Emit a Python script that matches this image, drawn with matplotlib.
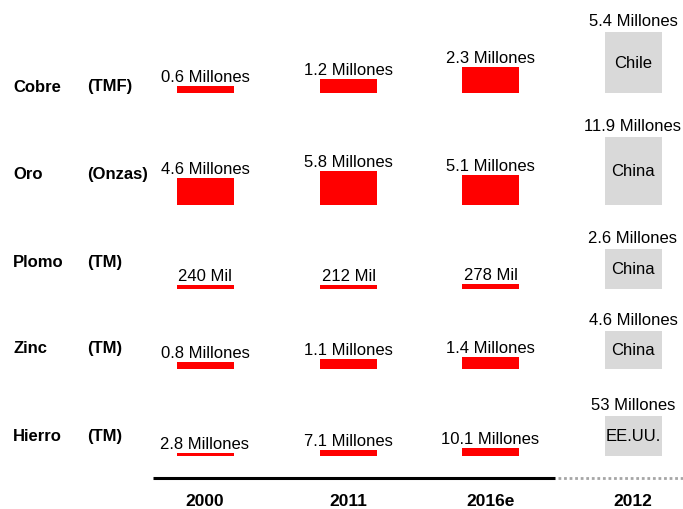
import matplotlib
matplotlib.use("Agg")
import matplotlib.pyplot as plt

plt.rcParams["font.family"] = ["Liberation Sans", "DejaVu Sans"]

# data
metals = ["Cobre", "Oro", "Plomo", "Zinc", "Hierro"]
units = ["(TMF)", "(Onzas)", "(TM)", "(TM)", "(TM)"]
years = ["2000", "2011", "2016e"]
leader_year = "2012"

# production in millions, columns = years
val_2000 = [0.6, 4.6, 0.240, 0.8, 2.8]
val_2011 = [1.2, 5.8, 0.212, 1.1, 7.1]
val_2016 = [2.3, 5.1, 0.278, 1.4, 10.1]
lbl_2000 = ["0.6 Millones", "4.6 Millones", "240 Mil", "0.8 Millones", "2.8 Millones"]
lbl_2011 = ["1.2 Millones", "5.8 Millones", "212 Mil", "1.1 Millones", "7.1 Millones"]
lbl_2016 = ["2.3 Millones", "5.1 Millones", "278 Mil", "1.4 Millones", "10.1 Millones"]

leader_val = [5.4, 11.9, 2.6, 4.6, 53]
leader_lbl = ["5.4 Millones", "11.9 Millones", "2.6 Millones", "4.6 Millones", "53 Millones"]
leader_country = ["Chile", "China", "China", "China", "EE.UU."]

# layout (pixel space)
row_base = [93.5, 205.5, 289.5, 369.5, 456.5]
row_scale = [61, 68, 40, 38, 40]       # pixel height of the leader box per row
label_y = [87, 175, 263, 349, 437]
col_x = [205, 348.5, 490.5]
leader_x = 633
bar_w = 57
RED = "#FF0000"
GRAY = "#D9D9D9"

fig = plt.figure(figsize=(6.83, 5.10), dpi=100)
ax = fig.add_axes([0, 0, 1, 1])
ax.set_xlim(0, 683)
ax.set_ylim(510, 0)
ax.axis("off")

cols = [(val_2000, lbl_2000), (val_2011, lbl_2011), (val_2016, lbl_2016)]

for i, metal in enumerate(metals):
    base = row_base[i]
    scale = row_scale[i] / leader_val[i]
    ax.text(13, label_y[i], metal, fontsize=12, fontweight="bold", va="center", ha="left")
    ax.text(87, label_y[i], units[i], fontsize=12, fontweight="bold", va="center", ha="left")

    for x, (vals, lbls) in zip(col_x, cols):
        h = vals[i] * scale
        ax.bar(x, h, width=bar_w, bottom=base - h, color=RED, linewidth=0)
        ax.text(x, base - h - 2, lbls[i], fontsize=12, ha="center", va="bottom")

    h = leader_val[i] * scale
    ax.bar(leader_x, h, width=bar_w, bottom=base - h, color=GRAY, linewidth=0)
    ax.text(leader_x, base - h / 2, leader_country[i], fontsize=12, ha="center", va="center")
    ax.text(leader_x, base - h - 3, leader_lbl[i], fontsize=12, ha="center", va="bottom")

# bottom axis
ax.plot([153, 555], [479, 479], color="black", linewidth=2.2, solid_capstyle="butt")
ax.plot([558, 683], [479, 479], color="#A6A6A6", linewidth=2, linestyle=(0, (1, 1)))

for x, y in zip(col_x, years):
    ax.text(x, 502, y, fontsize=12.5, fontweight="bold", ha="center", va="center")
ax.text(leader_x, 502, leader_year, fontsize=12.5, fontweight="bold", ha="center", va="center")

fig.savefig("out.png", dpi=100)
